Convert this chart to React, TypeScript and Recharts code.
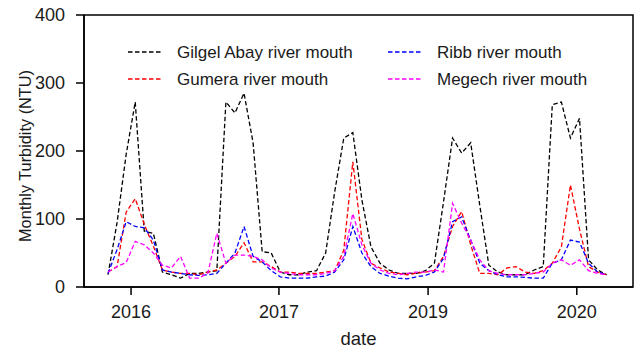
import React from 'react';
import {
  LineChart,
  Line,
  XAxis,
  YAxis,
  Legend,
  ReferenceArea,
} from 'recharts';

// monthly turbidity (NTU) at the four river mouths, one value per month
const gilgel = [
  18, 95, 195, 272, 82, 79, 22, 18, 13, 20, 20, 22, 24, 272, 256, 285, 212, 52, 50, 22,
  18, 18, 22, 24, 50, 140, 219, 227, 128, 59, 35, 25, 20, 20, 20, 24, 35, 125, 219, 197,
  212, 120, 32, 22, 18, 18, 18, 25, 30, 268, 272, 219, 248, 40, 25, 18,
];
const gumera = [
  22, 30, 110, 130, 92, 60, 25, 22, 20, 20, 18, 22, 25, 35, 45, 65, 37, 37, 30, 22,
  22, 20, 20, 20, 22, 24, 54, 184, 70, 35, 28, 22, 20, 18, 20, 22, 24, 45, 89, 111,
  62, 20, 20, 18, 28, 30, 22, 20, 24, 35, 59, 150, 85, 30, 22, 18,
];
const ribb = [
  20, 55, 96, 89, 87, 69, 25, 22, 20, 18, 17, 18, 20, 35, 50, 89, 45, 37, 24, 15,
  13, 13, 13, 15, 16, 22, 40, 89, 50, 30, 20, 16, 13, 12, 15, 17, 22, 42, 96, 103,
  69, 35, 24, 18, 15, 15, 14, 13, 13, 35, 40, 69, 66, 35, 22, 18,
];
const megech = [
  22, 30, 36, 67, 62, 50, 32, 28, 45, 13, 13, 20, 79, 35, 47, 47, 45, 40, 28, 22,
  20, 18, 18, 18, 20, 24, 45, 108, 62, 35, 25, 20, 18, 20, 22, 22, 25, 22, 123, 94,
  69, 40, 24, 20, 18, 18, 18, 20, 22, 35, 40, 32, 40, 24, 20, 18,
];

// x tick positions (in months from the first sample) and their labels
const xTickPos = [2.54, 18.85, 35.3, 51.7];
const xTickLabels = ['2016', '2017', '2019', '2020'];
const yTicks = [0, 100, 200, 300, 400];

const seriesNames = [
  'Gilgel Abay river mouth',
  'Gumera river mouth',
  'Ribb river mouth',
  'Megech river mouth',
];
const seriesKeys = ['gilgel', 'gumera', 'ribb', 'megech'];
const seriesColors = ['#000000', '#ff0000', '#0000ff', '#ff00ff'];

const data = gilgel.map((v, i) => ({
  t: i,
  gilgel: v,
  gumera: gumera[i],
  ribb: ribb[i],
  megech: megech[i],
}));

const FONT = '"Liberation Sans", Arial, sans-serif';
const DASH = '4.5 2.5';

const legendSlots = [
  { x: 128, y: 52 },
  { x: 128, y: 79 },
  { x: 388, y: 52 },
  { x: 388, y: 79 },
];

const renderLegend = () => (
  <svg width={636} height={100} style={{ display: 'block' }}>
    {seriesNames.map((name, i) => {
      const s = legendSlots[i];
      return (
        <g key={name}>
          <line
            x1={s.x}
            x2={s.x + 35}
            y1={s.y}
            y2={s.y}
            stroke={seriesColors[i]}
            strokeWidth={1.3}
            strokeDasharray={DASH}
          />
          <text x={s.x + 49} y={s.y + 6} fontSize={17} fontFamily={FONT} fill="#1a1a1a">
            {name}
          </text>
        </g>
      );
    })}
  </svg>
);

const App: React.FC = () => {
  return (
    <div style={{ position: 'absolute', left: 0, top: 0, background: '#fff' }}>
      <LineChart width={636} height={353} data={data} margin={{ top: 15, right: 3, bottom: 0, left: 0 }}>
        <ReferenceArea x1={-2.65} x2={57.9} y1={0} y2={400} fill="none" stroke="#000" strokeWidth={1.5} />
        <XAxis
          dataKey="t"
          type="number"
          domain={[-2.65, 57.9]}
          allowDataOverflow
          ticks={xTickPos}
          interval={0}
          tickFormatter={(v: number) => xTickLabels[xTickPos.indexOf(v)] ?? ''}
          height={66}
          tickSize={8}
          tickMargin={10}
          axisLine={{ stroke: '#000', strokeWidth: 1.5 }}
          tickLine={{ stroke: '#000', strokeWidth: 1.5 }}
          tick={{ fill: '#1a1a1a', fontSize: 18, fontFamily: FONT }}
          label={{
            value: 'date',
            position: 'insideBottom',
            offset: 8,
            style: { fill: '#1a1a1a', fontSize: 18.5, fontFamily: FONT },
          }}
        />
        <YAxis
          type="number"
          domain={[0, 400]}
          ticks={yTicks}
          interval={0}
          width={84}
          tickSize={8}
          tickMargin={11}
          axisLine={{ stroke: '#000', strokeWidth: 1.5 }}
          tickLine={{ stroke: '#000', strokeWidth: 1.5 }}
          tick={{ fill: '#1a1a1a', fontSize: 18, fontFamily: FONT }}
          label={{
            value: 'Monthly Turbidity (NTU)',
            angle: -90,
            position: 'insideLeft',
            offset: 0,
            dx: 25,
            dy: 5,
            style: { fill: '#1a1a1a', fontSize: 16.3, fontFamily: FONT, textAnchor: 'middle' },
          }}
        />
        <Legend
          layout="horizontal"
          verticalAlign="middle"
          align="center"
          content={renderLegend}
          wrapperStyle={{ left: 0, top: 0, width: 636, height: 100 }}
        />
        {seriesKeys.map((k, i) => (
          <Line
            key={k}
            type="linear"
            dataKey={k}
            name={seriesNames[i]}
            stroke={seriesColors[i]}
            strokeWidth={1.3}
            strokeDasharray={DASH}
            dot={false}
            isAnimationActive={false}
          />
        ))}
      </LineChart>
    </div>
  );
};

export default App;
